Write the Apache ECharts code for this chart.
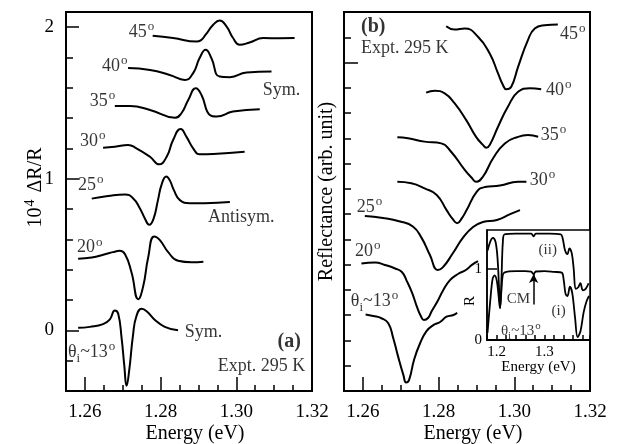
<!DOCTYPE html>
<html><head><meta charset="utf-8">
<script src="https://cdn.jsdelivr.net/npm/echarts@6/dist/echarts.min.js"></script>
<style>html,body{margin:0;padding:0;background:#fff}#c{width:618px;height:444px}</style>
</head><body><div id="c"></div>
<script>
// ---------- Panel (a): 10^4 dR/R spectra (energy eV, value) ----------
const eA45 = [1.2779,1.2833,1.2895,1.2906,1.2919,1.2939,1.2956,1.2974,1.2991,1.3009,1.3035,1.3071,1.3115,1.3154];
const rA45 = [1.943,1.928,1.905,1.913,1.950,2.016,2.044,2.005,1.930,1.884,1.899,1.928,1.927,1.928];
const eA40 = [1.2714,1.2772,1.2824,1.2864,1.2886,1.2903,1.2919,1.2934,1.2956,1.2983,1.3027,1.3093];
const rA40 = [1.730,1.718,1.685,1.652,1.697,1.796,1.851,1.796,1.674,1.670,1.701,1.707];
const eA35 = [1.2679,1.2719,1.2772,1.2838,1.2855,1.2873,1.2893,1.2908,1.2930,1.2948,1.2991,1.3062];
const rA35 = [1.480,1.480,1.454,1.403,1.432,1.520,1.597,1.553,1.421,1.410,1.443,1.459];
const eA30 = [1.2648,1.2679,1.2714,1.2736,1.2772,1.2796,1.2816,1.2833,1.2853,1.2868,1.2886,1.2903,1.2939,1.3022];
const rA30 = [1.205,1.211,1.223,1.201,1.145,1.095,1.145,1.256,1.328,1.278,1.201,1.161,1.163,1.178];
const eA25 = [1.2618,1.2661,1.2706,1.2727,1.2745,1.2758,1.2770,1.2781,1.2793,1.2803,1.2815,1.2824,1.2835,1.2851,1.2877,1.2917,1.2983];
const rA25 = [0.869,0.886,0.896,0.872,0.806,0.740,0.697,0.734,0.859,0.965,1.015,0.991,0.925,0.859,0.839,0.839,0.846];
const eA20 = [1.2582,1.2618,1.2653,1.2674,1.2692,1.2706,1.2723,1.2741,1.2754,1.2767,1.2783,1.2798,1.2820,1.2846,1.2882,1.2913];
const rA20 = [0.473,0.480,0.502,0.516,0.525,0.502,0.383,0.206,0.291,0.479,0.619,0.595,0.516,0.459,0.449,0.453];
const eA13 = [1.2582,1.2613,1.2648,1.2666,1.2679,1.2688,1.2697,1.2704,1.2710,1.2717,1.2727,1.2736,1.2750,1.2763,1.2785,1.2811,1.2846];
const rA13 = [0.017,0.023,0.041,0.073,0.131,0.109,-0.053,-0.231,-0.365,-0.264,-0.033,0.093,0.142,0.126,0.069,0.023,0.000];

// ---------- Panel (b): reflectance spectra (energy eV, arb. unit) ----------
const eB45 = [1.2820,1.2842,1.2869,1.2904,1.2935,1.2957,1.2970,1.2979,1.2992,1.3010,1.3036,1.3054,1.3080,1.3115];
const rB45 = [14.44,14.31,14.35,14.02,13.36,12.57,12.11,11.94,12.04,12.83,13.89,14.35,14.48,14.51];
const eB40 = [1.2767,1.2790,1.2816,1.2842,1.2873,1.2899,1.2917,1.2926,1.2935,1.2957,1.2983,1.3010,1.3041,1.3071];
const rB40 = [11.81,11.88,11.78,11.39,10.72,10.06,9.74,9.63,9.74,10.46,11.25,11.84,11.98,11.94];
const eB35 = [1.2691,1.2719,1.2763,1.2807,1.2833,1.2869,1.2888,1.2899,1.2917,1.2944,1.2975,1.3010,1.3036,1.3063];
const rB35 = [10.04,10.00,9.87,9.80,9.47,8.75,8.43,8.28,8.48,9.21,9.80,10.06,10.13,10.06];
const eB30 = [1.2691,1.2728,1.2763,1.2795,1.2821,1.2837,1.2849,1.2862,1.2874,1.2901,1.2922,1.2962,1.3010,1.3032];
const rB30 = [8.28,8.22,8.02,7.76,7.16,6.81,6.64,6.85,7.16,7.89,8.07,8.13,8.28,8.28];
const eB25 = [1.2605,1.2653,1.2698,1.2732,1.2755,1.2777,1.2798,1.2811,1.2838,1.2864,1.2891,1.2917,1.2954,1.2989,1.3015];
const rB25 = [6.93,6.85,6.71,6.51,6.06,5.38,4.79,4.89,5.46,6.06,6.49,6.69,6.77,7.00,7.16];
const eB20 = [1.2596,1.2632,1.2658,1.2685,1.2703,1.2716,1.2730,1.2743,1.2753,1.2761,1.2772,1.2782,1.2796,1.2811,1.2830,1.2851,1.2872,1.2888,1.2904];
const rB20 = [5.05,5.09,4.99,4.85,4.71,4.35,3.88,3.32,2.97,2.81,2.89,3.17,3.52,3.96,4.39,4.63,4.79,4.99,5.14];
const eB13 = [1.2607,1.2627,1.2649,1.2667,1.2680,1.2693,1.2707,1.2714,1.2722,1.2735,1.2751,1.2768,1.2786,1.2804,1.2821,1.2839,1.2849];
const rB13 = [3.03,2.97,2.88,2.68,2.10,1.36,0.63,0.34,0.44,1.23,1.89,2.37,2.61,2.73,2.94,3.01,3.10];

// ---------- Inset: wide-range reflectance R ----------
const eI1 = [1.181,1.187,1.1917,1.1958,1.2006,1.2042,1.207,1.2098,1.2125,1.216,1.24,1.26,1.272,1.2773,1.282,1.30,1.32,1.336,1.340,1.344,1.348,1.353,1.358,1.364,1.369,1.375,1.382,1.388,1.393];
const rI1 = [0.10,0.57,0.86,0.91,0.83,0.62,0.45,0.67,0.90,0.95,0.97,0.97,0.965,0.93,0.965,0.97,0.96,0.95,0.85,0.65,0.62,0.75,0.66,0.30,0.04,0.12,0.40,0.55,0.62];
const eI2 = [1.1813,1.187,1.1923,1.1979,1.2021,1.2056,1.2077,1.2104,1.2131,1.2167,1.24,1.272,1.2773,1.282,1.31,1.334,1.338,1.343,1.348,1.352,1.357,1.361,1.365,1.370,1.375,1.380,1.386,1.392];
const rI2 = [1.26,1.39,1.44,1.38,1.14,0.67,0.45,0.90,1.38,1.49,1.50,1.50,1.46,1.50,1.50,1.49,1.43,1.26,1.21,1.29,1.22,1.00,0.72,0.74,0.80,0.70,0.72,0.80];
const cmArrow = [[1.2773, 0.50], [1.2773, 0.93]];

// ---------- tick labels ----------
const xTicksMain = [1.26, 1.28, 1.30, 1.32];
const yTicksA = [0, 1, 2];
const yMajorB = [13];
const xTicksInset = [1.2, 1.3];
const yTicksInset = [0, 1];

// ---------- annotations (text, energy, value) ----------
const annA = [
  ['{n|45}{s|o}', 1.2716, 1.976], ['{n|40}{s|o}', 1.2645, 1.751], ['{n|35}{s|o}', 1.2613, 1.520],
  ['{n|30}{s|o}', 1.2587, 1.256], ['{n|25}{s|o}', 1.2582, 0.965], ['{n|20}{s|o}', 1.2579, 0.555],
  ['{t|θ}{sub|i}{t|~13}{s2|o}', 1.2555, -0.145],
  ['{n|Sym.}', 1.3070, 1.585], ['{n|Antisym.}', 1.2925, 0.745], ['{n|Sym.}', 1.2864, -0.013],
  ['{b|(a)}', 1.3109, -0.075], ['{n|Expt. 295 K}', 1.2951, -0.238]
];
const annB = [
  ['{n|45}{s|o}', 1.3121, 14.17], ['{n|40}{s|o}', 1.3084, 11.95], ['{n|35}{s|o}', 1.3070, 10.17],
  ['{n|30}{s|o}', 1.3041, 8.39], ['{n|25}{s|o}', 1.2584, 7.32], ['{n|20}{s|o}', 1.2579, 5.58],
  ['{t|θ}{sub|i}{t|~13}{s2|o}', 1.2568, 3.55],
  ['{b|(b)}', 1.2595, 14.40], ['{n|Expt. 295 K}', 1.2595, 13.57]
];
const annI = [
  ['{n|(ii)}', 1.2877, 1.27], ['{n|(i)}', 1.3146, 0.41], ['{n|CM}', 1.2214, 0.57],
  ['{t|θ}{sub|i}{t|~13}{s2|o}', 1.209, 0.13]
];

const FONT = 'Liberation Serif';
const richBig = {
  n: {fontFamily: FONT, fontSize: 18, color: '#000', verticalAlign: 'bottom'},
  b: {fontFamily: FONT, fontSize: 20, fontWeight: 'bold', color: '#000', verticalAlign: 'bottom'},
  s: {fontFamily: FONT, fontSize: 13, color: '#000', verticalAlign: 'bottom', padding: [0, 0, 8, 1]},
  t: {fontFamily: FONT, fontSize: 18, color: '#000', verticalAlign: 'bottom', padding: [0, 0, 4, 0]},
  sub: {fontFamily: FONT, fontSize: 13, color: '#000', verticalAlign: 'bottom'},
  s2: {fontFamily: FONT, fontSize: 13, color: '#000', verticalAlign: 'bottom', padding: [0, 0, 12, 1]}
};
const richSmall = {
  n: {fontFamily: FONT, fontSize: 15, color: '#000', verticalAlign: 'bottom'},
  t: {fontFamily: FONT, fontSize: 15, color: '#000', verticalAlign: 'bottom', padding: [0, 0, 3, 0]},
  sub: {fontFamily: FONT, fontSize: 11, color: '#000', verticalAlign: 'bottom'},
  s2: {fontFamily: FONT, fontSize: 11, color: '#000', verticalAlign: 'bottom', padding: [0, 0, 10, 1]}
};

const pts = (e, r) => e.map((x, i) => [x, r[i]]);
function curve(xi, yi, e, r, sm) {
  return {type: 'line', xAxisIndex: xi, yAxisIndex: yi, data: pts(e, r), showSymbol: false, symbol: 'none',
    smooth: sm, lineStyle: {color: '#000', width: 2}, silent: true, animation: false, z: 3};
}
function labels(xi, yi, ann, rich) {
  return {type: 'scatter', xAxisIndex: xi, yAxisIndex: yi, symbolSize: 0, silent: true, animation: false, z: 5,
    data: ann.map(a => ({value: [a[1], a[2]], label: {show: true, position: 'right', distance: 0, formatter: a[0], rich: rich}}))};
}
const black = '#000';
function mainX(gi, min, max, interval, vals, digits, fs, tickLen, name, gap) {
  return {type: 'value', gridIndex: gi, min: min, max: max, interval: interval, position: 'bottom',
    axisLine: {show: true, onZero: false, lineStyle: {color: black, width: 2}},
    axisTick: {show: true, inside: true, length: tickLen, lineStyle: {color: black, width: 1.5}},
    axisLabel: {customValues: vals, formatter: v => v.toFixed(digits), color: black, fontFamily: FONT, fontSize: fs, margin: fs > 16 ? 12 : 5},
    splitLine: {show: false},
    name: name, nameLocation: 'middle', nameGap: gap, nameMoveOverlap: false,
    nameTextStyle: {color: black, fontFamily: FONT, fontSize: fs > 16 ? 20 : 15, padding: fs > 16 ? [0, 0, 0, 12] : 0}};
}
function majorX(gi, min, max, vals, len) {
  return {type: 'value', gridIndex: gi, min: min, max: max, position: 'bottom',
    axisLine: {show: false, onZero: false}, axisLabel: {show: false}, splitLine: {show: false},
    axisTick: {show: true, inside: true, length: len, customValues: vals, lineStyle: {color: black, width: 1.5}}};
}
function majorY(gi, min, max, vals, len) {
  return {type: 'value', gridIndex: gi, min: min, max: max, position: 'left',
    axisLine: {show: false, onZero: false}, axisLabel: {show: false}, splitLine: {show: false},
    axisTick: {show: true, inside: true, length: len, customValues: vals, lineStyle: {color: black, width: 1.5}}};
}

const chart = echarts.init(document.getElementById('c'));
chart.setOption({
  backgroundColor: '#fff',
  animation: false,
  grid: [
    {left: 66, top: 12, width: 246, height: 379, show: true, borderColor: black, borderWidth: 2, backgroundColor: 'transparent', outerBoundsMode: 'none', containLabel: false},
    {left: 344, top: 12, width: 246, height: 379, show: true, borderColor: black, borderWidth: 2, backgroundColor: 'transparent', outerBoundsMode: 'none', containLabel: false},
    {left: 487, top: 230, width: 103, height: 110, show: true, borderColor: black, borderWidth: 1.5, backgroundColor: '#fff', z: 4, outerBoundsMode: 'none', containLabel: false}
  ],
  xAxis: [
    mainX(0, 1.255, 1.32, 0.005, xTicksMain, 2, 19, 6, 'Energy (eV)', 33),
    majorX(0, 1.255, 1.32, xTicksMain, 14),
    mainX(1, 1.255, 1.32, 0.005, xTicksMain, 2, 19, 6, 'Energy (eV)', 33),
    majorX(1, 1.255, 1.32, xTicksMain, 14),
    Object.assign(mainX(2, 1.18, 1.395, 0.02, xTicksInset, 1, 15, 5, 'Energy (eV)', 20), {z: 6})
  ],
  yAxis: [
    {type: 'value', gridIndex: 0, min: -0.4, max: 2.1, interval: 0.2, position: 'left',
     axisLine: {show: true, onZero: false, lineStyle: {color: black, width: 2}},
     axisTick: {show: true, inside: true, length: 7, lineStyle: {color: black, width: 1.5}},
     axisLabel: {customValues: yTicksA, formatter: v => String(v), color: black, fontFamily: FONT, fontSize: 19, margin: 12},
     splitLine: {show: false},
     name: '{a|10}{p|4}{a| ΔR/R}', nameLocation: 'middle', nameRotate: 90, nameGap: 20, nameMoveOverlap: false,
     nameTextStyle: {padding: [0, 0, 0, 28], rich: {
       a: {fontFamily: FONT, fontSize: 20, color: black, verticalAlign: 'bottom'},
       p: {fontFamily: FONT, fontSize: 14, color: black, verticalAlign: 'bottom', padding: [0, 2, 9, 1]}}}},
    majorY(0, -0.4, 2.1, yTicksA, 13),
    {type: 'value', gridIndex: 1, min: 0, max: 15, interval: 1, position: 'left',
     axisLine: {show: true, onZero: false, lineStyle: {color: black, width: 2}},
     axisTick: {show: true, inside: true, length: 7, lineStyle: {color: black, width: 1.5}},
     axisLabel: {show: false}, splitLine: {show: false},
     name: 'Reflectance (arb. unit)', nameLocation: 'middle', nameRotate: 90, nameGap: 7, nameMoveOverlap: false,
     nameTextStyle: {color: black, fontFamily: FONT, fontSize: 20, padding: [0, 0, 0, 20]}},
    majorY(1, 0, 15, yMajorB, 14),
    {type: 'value', gridIndex: 2, min: 0, max: 1.55, position: 'left', z: 6,
     axisLine: {show: true, onZero: false, lineStyle: {color: black, width: 1.5}},
     axisTick: {show: true, inside: true, length: 10, customValues: yTicksInset, lineStyle: {color: black, width: 1.5}},
     axisLabel: {customValues: yTicksInset, formatter: v => String(v), color: black, fontFamily: FONT, fontSize: 15, margin: 5},
     splitLine: {show: false},
     name: 'R', nameLocation: 'middle', nameRotate: 90, nameGap: 9, nameMoveOverlap: false,
     nameTextStyle: {color: black, fontFamily: FONT, fontSize: 15, padding: [0, 32, 0, 0]}}
  ],
  series: [
    curve(0, 0, eA45, rA45, 0.5), curve(0, 0, eA40, rA40, 0.5), curve(0, 0, eA35, rA35, 0.5),
    curve(0, 0, eA30, rA30, 0.5), curve(0, 0, eA25, rA25, 0.5), curve(0, 0, eA20, rA20, 0.5),
    curve(0, 0, eA13, rA13, 0.5),
    curve(2, 2, eB45, rB45, 0.5), curve(2, 2, eB40, rB40, 0.5), curve(2, 2, eB35, rB35, 0.5),
    curve(2, 2, eB30, rB30, 0.5), curve(2, 2, eB25, rB25, 0.5), curve(2, 2, eB20, rB20, 0.5),
    curve(2, 2, eB13, rB13, 0.5),
    Object.assign(curve(4, 4, eI1, rI1, 0.35), {z: 7, lineStyle: {color: black, width: 1.8},
      markLine: {silent: true, symbol: ['none', 'arrow'], symbolSize: [7, 9], label: {show: false},
        lineStyle: {color: black, width: 1.5, type: 'solid'},
        data: [[{coord: cmArrow[0]}, {coord: cmArrow[1]}]]}}),
    Object.assign(curve(4, 4, eI2, rI2, 0.35), {z: 7, lineStyle: {color: black, width: 1.8}}),
    labels(0, 0, annA, richBig),
    labels(2, 2, annB, richBig),
    Object.assign(labels(4, 4, annI, richSmall), {z: 8})
  ]
});
</script>
</body></html>
